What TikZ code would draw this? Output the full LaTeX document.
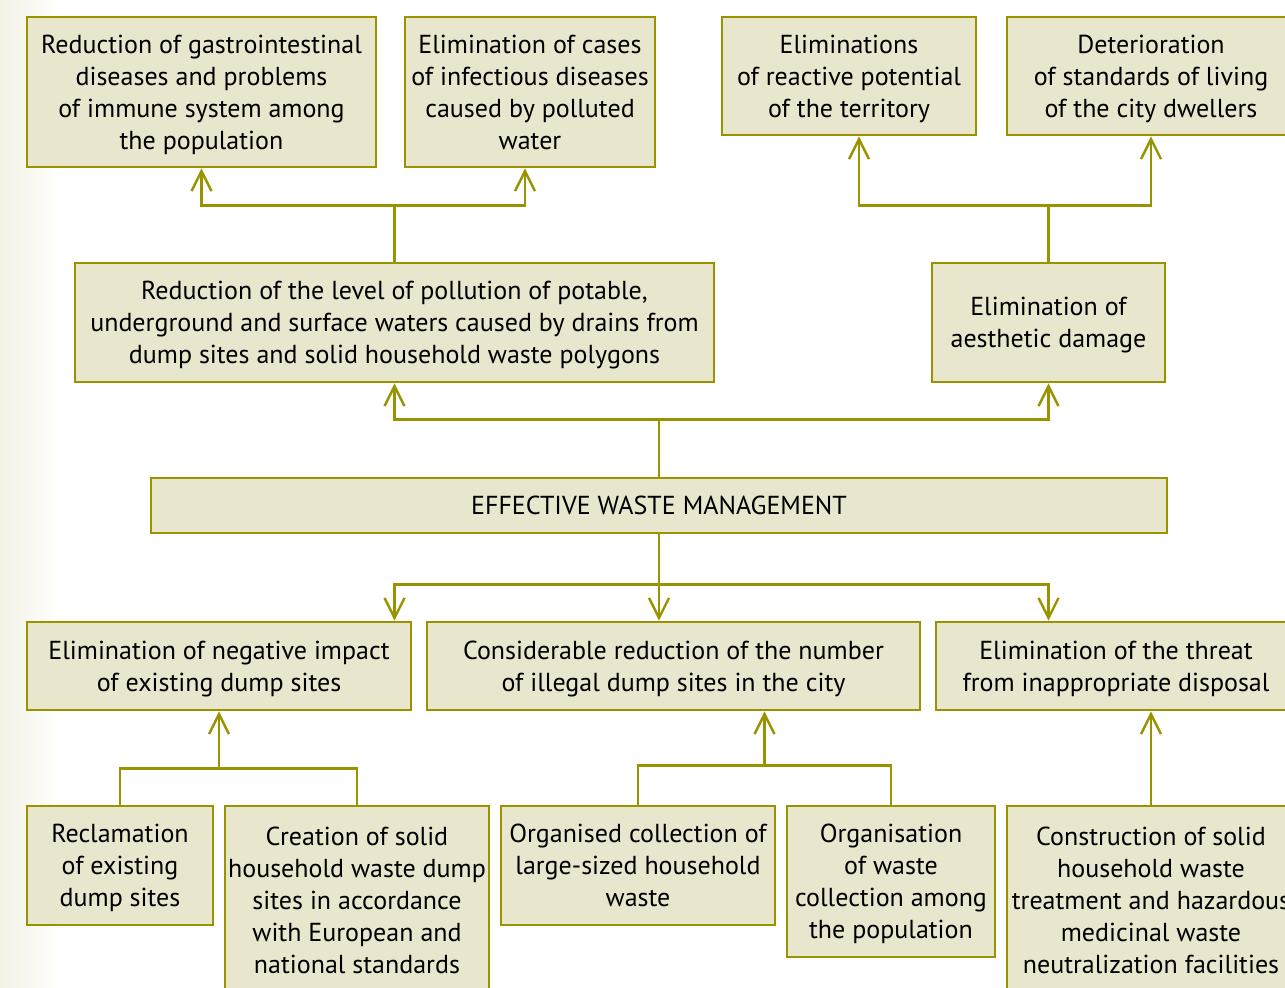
\documentclass[tikz,border=0pt]{standalone}
\usepackage{fontspec}
\setmainfont{PT Sans}
\usetikzlibrary{arrows.meta,calc}
\definecolor{olive}{RGB}{153,147,0}
\definecolor{boxfill}{RGB}{232,230,204}
\definecolor{cream}{RGB}{243,242,228}

\begin{document}
\begin{tikzpicture}[x=0.5pt, y=-0.5pt,
  main/.style = {draw=olive, fill=boxfill, line width=1.4pt, align=center, inner sep=0pt,
    text depth=0pt, font=\fontsize{13}{16}\selectfont, text=black},
  link/.style = {draw=olive, line width=1.2pt},
  arrow/.style = {link, -{Straight Barb[length=10pt,width=10pt,line width=1.2pt]}}]
\useasboundingbox (0,0) rectangle (1285,987);
\shade[left color=cream, right color=white] (0,0) rectangle (60,987);
% top row
\node[main, minimum width=174.5pt, minimum height=75pt] (a1) at (201.5,92) {Reduction of gastrointestinal\\diseases and problems\\of immune system among\\the population};
\node[main, minimum width=125pt, minimum height=75pt] (a2) at (530,92) {Elimination of cases\\of infectious diseases\\caused by polluted\\water};
\node[main, minimum width=127pt, minimum height=59pt] (a3) at (849,76) {Eliminations\\of reactive potential\\of the territory};
\node[main, minimum width=144pt, minimum height=59pt] (a4) at (1151,76) {Deterioration\\of standards of living\\of the city dwellers};
% middle row
\node[main, minimum width=319.5pt, minimum height=59.5pt] (b1) at (394.5,322.5) {Reduction of the level of pollution of potable,\\underground and surface waters caused by drains from\\dump sites and solid household waste polygons};
\node[main, minimum width=116.5pt, minimum height=59.5pt] (b2) at (1048.5,322.5) {Elimination of\\aesthetic damage};
\node[main, minimum width=508pt, minimum height=27.5pt] (c) at (659,505.5) {EFFECTIVE WASTE MANAGEMENT};
% lower rows
\node[main, minimum width=192pt, minimum height=44pt] (d1) at (219,666) {Elimination of negative impact\\of existing dump sites};
\node[main, minimum width=246.5pt, minimum height=44pt] (d2) at (673.5,666) {Considerable reduction of the number\\of illegal dump sites in the city};
\node[main, minimum width=180pt, minimum height=44pt] (d3) at (1116,666) {Elimination of the threat\\from inappropriate disposal};
\node[main, minimum width=93pt, minimum height=59.5pt] (e1) at (120,865.5) {Reclamation\\of existing\\dump sites};
\node[main, minimum width=132pt, minimum height=94pt] (e2) at (357,900) {Creation of solid\\household waste dump\\sites in accordance\\with European and\\national standards};
\node[main, minimum width=137pt, minimum height=59.5pt] (e3) at (638,865.5) {Organised collection of\\large-sized household\\waste};
\node[main, minimum width=104pt, minimum height=75.5pt] (e4) at (891,881.5) {Organisation\\of waste\\collection among\\the population};
\node[main, minimum width=144pt, minimum height=94pt] (e5) at (1151,900) {Construction of solid\\household waste\\treatment and hazardous\\medicinal waste\\neutralization facilities};
% connectors, upper part
\path (b1.north) ++(0,-56) coordinate (jb1);
\draw[link] (b1.north) -- (jb1);
\draw[arrow] (jb1) -| (a1.south);
\draw[arrow] (jb1) -| ([xshift=-2.5pt]a2.south);
\path (b2.north) ++(0,-56) coordinate (jb2);
\draw[link] (b2.north) -- (jb2);
\draw[arrow] (jb2) -| ([xshift=5pt]a3.south);
\draw[arrow] (jb2) -| (a4.south);
\path (c.north) ++(0,-57) coordinate (jc1);
\draw[link] (c.north) -- (jc1);
\draw[arrow] (jc1) -| (b1.south);
\draw[arrow] (jc1) -| (b2.south);
% connectors, lower part
\path (c.south) ++(0,50) coordinate (jc2);
\draw[arrow] (c.south) -- (c.south |- d2.north);
\draw[arrow] (jc2) -| (b1.south |- d1.north);
\draw[arrow] (jc2) -| (b2.south |- d3.north);
\path (d1.south) ++(0,57) coordinate (jd1);
\draw[link] (e1.north) |- (jd1) -| (e2.north);
\draw[arrow] (jd1) -- (d1.south);
\coordinate (jd2) at ($(e3.north)!0.5!(e4.north) + (0,-39)$);
\draw[link] (e3.north) |- (jd2) -| (e4.north);
\draw[arrow] (jd2) -- (jd2 |- d2.south);
\draw[arrow] (e5.north) -- (e5.north |- d3.south);
\end{tikzpicture}
\end{document}
